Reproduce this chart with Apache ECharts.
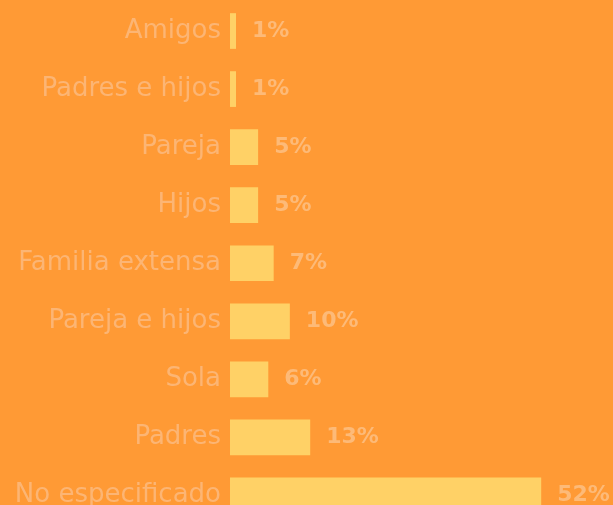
<!DOCTYPE html>
<html>
<head>
<meta charset="utf-8">
<script src="https://cdn.jsdelivr.net/npm/echarts@6/dist/echarts.min.js"></script>
<style>
html,body{margin:0;padding:0;background:#FF9A35;}
#chart{width:613px;height:505px;}
</style>
</head>
<body>
<div id="chart"></div>
<script>
const categories = ["Amigos","Padres e hijos","Pareja","Hijos","Familia extensa","Pareja e hijos","Sola","Padres","No especificado"];
const values = [1.0, 1.0, 4.7, 4.7, 7.3, 10.0, 6.4, 13.4, 52.0];

const chart = echarts.init(document.getElementById('chart'), null, {renderer:'canvas'});
chart.setOption({
  backgroundColor: '#FF9A35',
  animation: false,
  grid: {left: 230, right: 0, top: 2, height: 522.5, containLabel: false, outerBoundsMode: 'none'},
  xAxis: {type:'value', min:0, max:64, show:false},
  yAxis: {
    type:'category', data: categories, inverse: true,
    axisLine:{show:false}, axisTick:{show:false}, splitLine:{show:false},
    axisLabel:{color:'#FCB574', fontSize:26, fontFamily:'DejaVu Sans', fontWeight:'normal', margin:9}
  },
  series: [{
    type:'bar', data: values, barWidth: 35.7,
    itemStyle:{color:'#FFD166'},
    label:{show:true, position:'right', distance:16, color:'#FDBA78', fontSize:22, fontWeight:'bold', fontFamily:'DejaVu Sans',
      formatter: p => Math.round(p.value) + '%'}
  }]
});
</script>
</body>
</html>
